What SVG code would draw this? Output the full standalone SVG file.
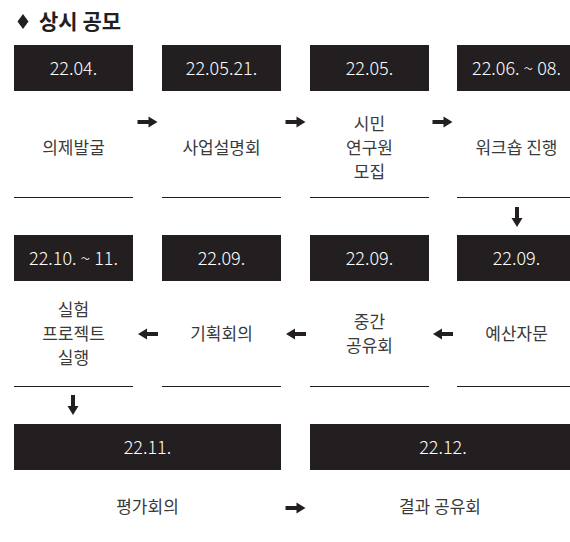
<svg xmlns="http://www.w3.org/2000/svg" width="570" height="542" viewBox="0 0 570 542">
<defs>
<style>
.box{fill:#231f20}
.date{fill:#ffffff;font-family:"Noto Sans CJK KR","Noto Sans",sans-serif;font-size:18px;font-weight:300;text-anchor:middle}
.lbl{fill:#3a3a3a;font-family:"Noto Sans CJK KR","Noto Sans",sans-serif;font-size:17px;text-anchor:middle}
.rule{stroke:#231f20;stroke-width:1}
.title{fill:#231f20;font-family:"Noto Sans CJK KR","Noto Sans",sans-serif;font-size:21px;font-weight:bold}
</style>
<path id="arr" d="M-10,-2 H1 V-5.5 L10,0 L1,5.5 V2 H-10 Z" fill="#231f20"/>
</defs>
<rect width="570" height="542" fill="#ffffff"/>
<g id="title">
<path d="M23,14 L28.5,21.5 L23,29 L17.5,21.5 Z" fill="#231f20"/>
<text class="title" x="39" y="29">상시 공모</text>
</g>
<g id="n1"><rect class="box" x="14" y="45" width="119" height="46"/><text class="date" x="73.5" y="74.5">22.04.</text><text class="lbl" x="73.5" y="154">의제발굴</text><line class="rule" x1="14" y1="197.5" x2="133" y2="197.5"/></g>
<g id="n2"><rect class="box" x="162" y="45" width="119" height="46"/><text class="date" x="221.5" y="74.5">22.05.21.</text><text class="lbl" x="221.5" y="154">사업설명회</text><line class="rule" x1="162" y1="197.5" x2="281" y2="197.5"/></g>
<g id="n3"><rect class="box" x="310" y="45" width="119" height="46"/><text class="date" x="369.5" y="74.5">22.05.</text><text class="lbl" x="369.5" y="130">시민</text><text class="lbl" x="369.5" y="154">연구원</text><text class="lbl" x="369.5" y="178">모집</text><line class="rule" x1="310" y1="197.5" x2="429" y2="197.5"/></g>
<g id="n4"><rect class="box" x="457" y="45" width="119" height="46"/><text class="date" x="516.5" y="74.5">22.06. ~ 08.</text><text class="lbl" x="516.5" y="154">워크숍 진행</text><line class="rule" x1="457" y1="197.5" x2="576" y2="197.5"/></g>
<g id="n5"><rect class="box" x="457" y="235" width="119" height="46"/><text class="date" x="516.5" y="264.5">22.09.</text><text class="lbl" x="516.5" y="340">예산자문</text><line class="rule" x1="457" y1="386.5" x2="576" y2="386.5"/></g>
<g id="n6"><rect class="box" x="310" y="235" width="119" height="46"/><text class="date" x="369.5" y="264.5">22.09.</text><text class="lbl" x="369.5" y="328">중간</text><text class="lbl" x="369.5" y="352">공유회</text><line class="rule" x1="310" y1="386.5" x2="429" y2="386.5"/></g>
<g id="n7"><rect class="box" x="162" y="235" width="119" height="46"/><text class="date" x="221.5" y="264.5">22.09.</text><text class="lbl" x="221.5" y="340">기획회의</text><line class="rule" x1="162" y1="386.5" x2="281" y2="386.5"/></g>
<g id="n8"><rect class="box" x="14" y="235" width="119" height="46"/><text class="date" x="73.5" y="264.5">22.10. ~ 11.</text><text class="lbl" x="73.5" y="316">실험</text><text class="lbl" x="73.5" y="340">프로젝트</text><text class="lbl" x="73.5" y="364">실행</text><line class="rule" x1="14" y1="386.5" x2="133" y2="386.5"/></g>
<g id="n9"><rect class="box" x="14" y="424" width="267" height="46"/><text class="date" x="147.5" y="453.5">22.11.</text><text class="lbl" x="147.5" y="513">평가회의</text></g>
<g id="n10"><rect class="box" x="310" y="424" width="266" height="46"/><text class="date" x="443" y="453.5">22.12.</text><text class="lbl" x="440" y="513">결과 공유회</text></g>
<g id="connectors">
<use href="#arr" transform="translate(147.5,122)"/>
<use href="#arr" transform="translate(295.5,122)"/>
<use href="#arr" transform="translate(442.5,122)"/>
<use href="#arr" transform="translate(517,217) rotate(90)"/>
<use href="#arr" transform="translate(443,334) rotate(180)"/>
<use href="#arr" transform="translate(296,334) rotate(180)"/>
<use href="#arr" transform="translate(148,334) rotate(180)"/>
<use href="#arr" transform="translate(73,405) rotate(90)"/>
<use href="#arr" transform="translate(295.5,508)"/>
</g>
</svg>
